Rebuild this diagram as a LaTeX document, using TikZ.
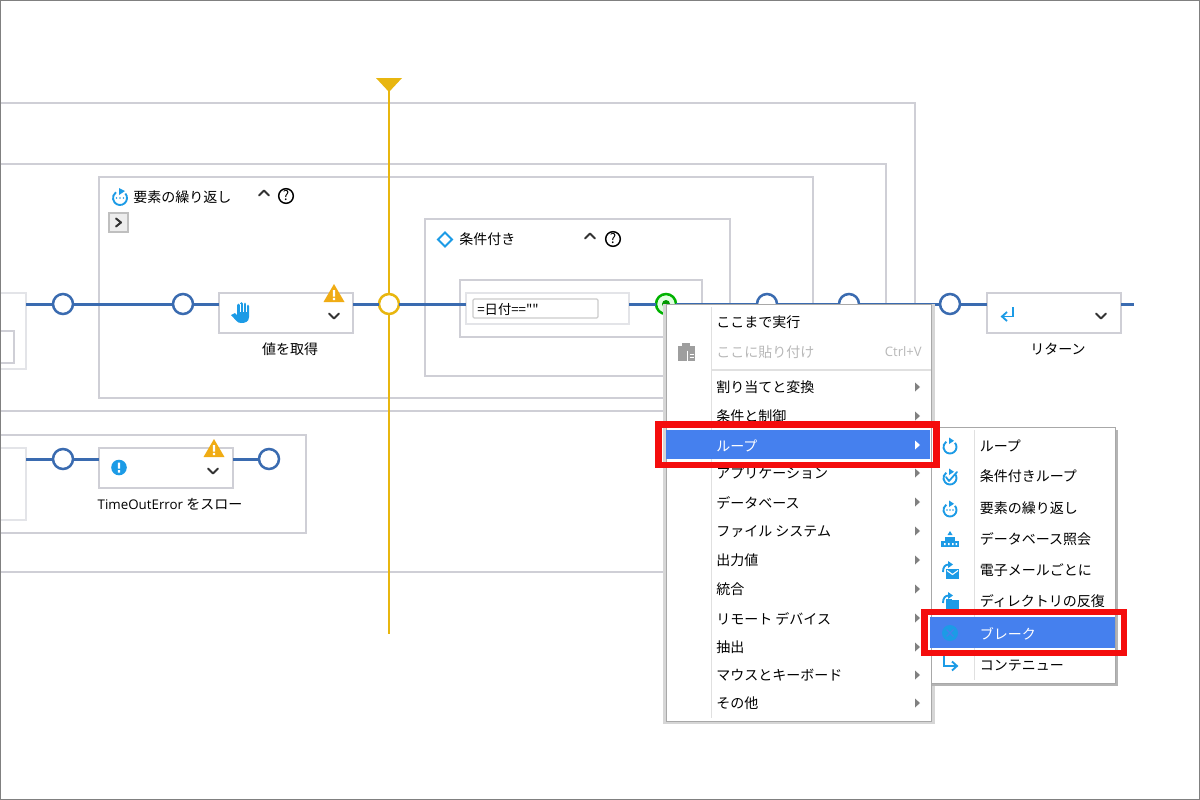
\documentclass[tikz,border=0pt]{standalone}
\usepackage{fontspec}
\setmainfont{Noto Sans CJK JP}
\newfontfamily\latinui{Open Sans}
\newfontfamily\rawcjk{Noto Sans CJK JP}
\definecolor{framegray}{HTML}{CFCFD6}
\definecolor{lightgray2}{HTML}{E3E4E8}
\definecolor{flowblue}{HTML}{3A6BB0}
\definecolor{gold}{HTML}{E8B60F}
\definecolor{warn}{HTML}{F0AC14}
\definecolor{iconblue}{HTML}{1C9BE6}
\definecolor{hilite}{HTML}{4580EE}
\definecolor{redmark}{HTML}{F40D0D}
\definecolor{menuline}{HTML}{A8A8A8}
\definecolor{shadowgray}{HTML}{D6D6D6}
\definecolor{shadowdark}{HTML}{B4B4B4}
\newcommand\bx[6]{%
  \pgfmathsetmacro\bxw{(#4-#2)*0.75}\pgfmathsetmacro\bxh{(#5-#3)*0.75}%
  \node[#6,minimum width=\bxw pt,minimum height=\bxh pt] (#1) at ({(#2+#4)/2},{(#3+#5)/2}) {};}
\newcommand\warning[2]{%
  \begin{scope}[shift={(#1,#2)}]
  \fill[warn] (0,-9) -- (10.5,9) -- (-10.5,9) -- cycle;
  \fill[white] (-1.2,-3) rectangle (1.2,3.5) (-1.2,4.8) rectangle (1.2,7);
  \end{scope}}
\newcommand\chevdown[2]{\draw[chev] (#1-5,#2-2.5) -- (#1,#2+2.5) -- (#1+5,#2-2.5);}
\newcommand\chevup[2]{\draw[chev] (#1-5,#2+2.5) -- (#1,#2-2.5) -- (#1+5,#2+2.5);}
\newcommand\helpicon[2]{%
  \node[draw=black,circle,line width=1.1pt,minimum size=11pt,inner sep=0pt,font=\fontsize{10}{10}\selectfont,text=black] at (#1,#2) {?};}
\newcommand\loopicon[2]{%
  \begin{scope}[shift={(#1,#2)}]
  \draw[ic] (-40:6.5) arc (-40:235:6.5);
  \fill[iconblue] (-1,-9.5) -- (4,-6.2) -- (-1,-3) -- cycle;
  \end{scope}}
\newcommand\menuarrow[2]{\fill[#1] (915,#2-4.5) -- (920,#2) -- (915,#2+4.5) -- cycle;}
\tikzset{
  x=0.75pt,y=-0.75pt,
  frame/.style={draw=framegray,line width=1.5pt,fill=none,rectangle,inner sep=0pt,outer sep=0pt},
  soft/.style={draw=lightgray2,line width=1.5pt,fill=white,rectangle,inner sep=0pt,outer sep=0pt},
  stepbox/.style={draw=framegray,line width=1.7pt,fill=white,rectangle,inner sep=0pt,outer sep=0pt},
  flow/.style={draw=flowblue,line width=2.25pt},
  port/.style={circle,draw=flowblue,fill=white,line width=1.9pt,minimum size=15pt,inner sep=0pt,outer sep=0pt},
  goldport/.style={port,draw=gold},
  guide/.style={fill=gold,draw=none,rectangle,inner sep=0pt,outer sep=0pt},
  chev/.style={draw=black!80,line width=1.5pt,line cap=round,line join=round},
  ic/.style={draw=iconblue,line width=1.4pt},
  label/.style={font=\fontsize{10.5}{12}\selectfont,text=black,inner sep=0pt},
  item/.style={label,anchor=west},
  panel/.style={draw=menuline,line width=0.75pt,fill=white,rectangle,inner sep=0pt,outer sep=0pt},
  shade/.style={fill=shadowgray,draw=none,rectangle,inner sep=0pt,outer sep=0pt},
  shadedark/.style={fill=shadowdark,draw=none,rectangle,inner sep=0pt,outer sep=0pt},
  selbar/.style={fill=hilite,draw=none,rectangle,inner sep=0pt,outer sep=0pt},
  redbox/.style={draw=redmark,line width=5pt,fill=none,rectangle,inner sep=0pt,outer sep=0pt},
}
\begin{document}
\begin{tikzpicture}
\clip (0,0) rectangle (1200,800);
\fill[white] (0,0) rectangle (1200,800);
% nested frames
\bx{outer}{-20}{103}{915}{572}{frame}
\bx{second}{-20}{164}{886}{411}{frame}
\bx{foreach}{99}{177}{813}{398}{frame}
\bx{cond}{425}{219}{730}{376}{frame}
\bx{condin}{460}{280}{702}{337}{frame}
\bx{lowerf}{-20}{435}{306}{533}{frame}
% left partial boxes
\bx{leftbox}{-20}{293}{26}{369}{soft}
\bx{leftin}{-20}{331}{14}{363}{frame}
\bx{lowbox}{-20}{448}{26}{520}{soft}
% step boxes
\bx{hold}{219}{293}{353}{333}{stepbox}
\bx{retbox}{987}{293}{1121}{333}{stepbox}
\bx{throwbox}{99}{448}{233}{488}{stepbox}
\bx{test}{466}{293}{629}{324}{soft}
\bx{testin}{473}{299}{598}{318}{draw=black!20,line width=0.9pt,fill=white,rounded corners=1pt,rectangle,inner sep=0pt,outer sep=0pt}
% guide line
\bx{guideline}{388.4}{85}{390}{634}{guide}
\fill[gold] (376,78) -- (402,78) -- (389,92) -- cycle;
% ports
\node[port] (p1) at (63,304) {};
\node[port] (p2) at (183,304) {};
\node[goldport] (p3) at (389,304) {};
\node[port] (p4) at (767,304) {};
\node[port] (p5) at (849,304) {};
\node[port] (p6) at (950,304) {};
\node[port] (q1) at (63,459) {};
\node[port] (q2) at (269,459) {};
\node[circle,draw=green!70!black,fill=green!12,line width=1.9pt,minimum size=15pt,inner sep=0pt,outer sep=0pt] (pg) at (666,304) {};
\fill[green!60!black] (pg.center) circle (4);
\coordinate (flowend) at (1134,304);
% connectors
\draw[flow] (p1 -| leftbox.east) -- (p1);
\draw[flow] (p1) -- (p2);
\draw[flow] (p2) -- (p2 -| hold.west);
\draw[flow] (p3 -| hold.east) -- (p3);
\draw[flow] (p3) -- (p3 -| test.west);
\draw[flow] (pg -| test.east) -- (pg);
\draw[flow] (pg) -- (p4);
\draw[flow] (p4) -- (p5);
\draw[flow] (p5) -- (p6);
\draw[flow] (p6) -- (p6 -| retbox.west);
\draw[flow] (flowend -| retbox.east) -- (flowend);
\draw[flow] (q1 -| lowbox.east) -- (q1);
\draw[flow] (q1) -- (q1 -| throwbox.west);
\draw[flow] (q2 -| throwbox.east) -- (q2);
% header labels
\draw[ic] (120,198) ++(-40:7) arc (-40:235:7);
\fill[iconblue] (119,188) -- (125,191) -- (119,195) -- cycle;
\fill[iconblue] (116.5,198) circle (0.9) (120,198) circle (0.9) (123.5,198) circle (0.9);
\node[item] (t1) at (133,197.5) {要素の繰り返し};
\chevup{264}{193}
\helpicon{286}{196}
\bx{expand}{109}{213}{128}{232}{draw=black!25,line width=0.9pt,fill=black!7,rectangle,inner sep=0pt,outer sep=0pt}
\draw[chev] (116,218.5) -- (121,222.5) -- (116,226.5);
\draw[iconblue,line width=1.4pt] (445,232.5) -- (452,239.5) -- (445,246.5) -- (438,239.5) -- cycle;
\node[item] (t2) at (459,239.5) {条件付き};
\chevup{590}{236}
\helpicon{613}{239}
% test text
\node[item,font=\rawcjk\fontsize{10}{12}\selectfont] (t3) at (477,309) {=日付==""};
% hold
\fill[iconblue] (231,315) -- (235,313) -- (237,315) -- (237,306) -- (249,306) -- (249,317) .. controls (249,322) and (245,323) .. (241,323) .. controls (237,323) and (236,320) .. (231,315) -- cycle;
\draw[iconblue,line width=2.2pt,line cap=round] (238.5,310) -- (238.5,305) (241.8,310) -- (241.8,303.5) (245,310) -- (245,304) (248,310) -- (248,306);
\draw[white,line width=0.4pt] (240.2,304) -- (240.2,312) (243.4,304) -- (243.4,312) (246.5,304) -- (246.5,312);
\warning{334}{293}
\chevdown{334}{316}
\node[label] (t4) at (290,349.5) {値を取得};
% return
\draw[ic] (1013,307) -- (1013,316.5) -- (1002.5,316.5);
\draw[ic] (1007,312) -- (1002,316.5) -- (1007,321);
\chevdown{1101}{316}
\node[label] (t5) at (1058,349.5) {リターン};
% throw
\fill[iconblue] (119,467.5) circle (7.8);
\fill[white] (117.8,462.5) rectangle (120.2,468.5) (117.8,470) rectangle (120.2,472.5);
\warning{214}{448}
\chevdown{213}{471}
\node[label] (t6) at (170,504.5) {{\latinui\fontsize{10}{12}\selectfont TimeOutError} をスロー};
% main menu
\bx{menushade}{663}{304}{935}{724}{shade}
\bx{menu}{666}{304}{931}{721}{panel}
\draw[black!12,line width=0.75pt] (711,307) -- (711,718);
\draw[black!12,line width=1.5pt] (711,370) -- (931,370);
\fill[black!38] (678,346) rectangle (695,361);
\fill[black!38] (682,343) rectangle (690,347);
\draw[white,line width=0.5pt] (687,350.5) -- (687,361) (689.5,354) -- (693.5,354) (689.5,357) -- (693.5,357);
\node[item] (m0) at (716,322.5) {ここまで実行};
\node[item,text=black!28] (m1) at (716,352.5) {ここに貼り付け};
\node[label,anchor=east,text=black!28,font=\latinui\fontsize{9.8}{12}\selectfont] (mk) at (922,352) {Ctrl+V};
\bx{sel1}{666}{430}{930}{459}{selbar}
\foreach \ty/\tt [count=\i from 2] in {387/割り当てと変換,416/条件と制御,473/アプリケーション,502/データベース,531/ファイル システム,560/出力値,589/統合,618/リモート デバイス,647/抽出,675/マウスとキーボード,703/その他}{
  \node[item] (m\i) at (716,\ty+0.5) {\tt};
  \menuarrow{black!50}{\ty}
}
\node[item,text=white] (mloop) at (716,445.5) {ループ};
\menuarrow{white}{445}
% submenu
\bx{subshade}{932}{430}{1118}{686}{shadedark}
\bx{submenu}{931}{427}{1115}{683}{panel}
\draw[black!12,line width=0.75pt] (974,430) -- (974,680);
\bx{sel2}{930}{617}{1115}{648}{selbar}
\foreach \ty/\tt [count=\i] in {445/ループ,476/条件付きループ,508/要素の繰り返し,539/データベース照会,570/電子メールごとに,601/ディレクトリの反復,665/コンテニュー}{
  \node[item] (s\i) at (979.5,\ty+0.5) {\tt};
}
\node[item,text=white] (sbreak) at (979.5,633.5) {ブレーク};
% submenu icons
\loopicon{950}{447}
\loopicon{950}{478}
\draw[iconblue,line width=1.3pt,line cap=round,line join=round] (946,477) -- (949,481) -- (957,472);
\loopicon{950}{510}
\fill[iconblue] (947,510) circle (0.8) (950,510) circle (0.8) (953,510) circle (0.8);
\fill[iconblue] (941,541) rectangle (959,547);
\fill[iconblue] (945,537) rectangle (955,541);
\fill[iconblue] (950,531) -- (947.5,535) -- (952.5,535) -- cycle;
\fill[white] (944,543) rectangle (945.5,545) (948,543) rectangle (949.5,545) (952,543) rectangle (953.5,545) (955.5,543) rectangle (957,545);
% e-mail icon
\draw[ic] (943,572) .. controls (943,567) and (945,564.5) .. (949,564.5);
\fill[iconblue] (948,561) -- (953,564.5) -- (948,568) -- cycle;
\fill[iconblue] (946,569) rectangle (959,579);
\draw[white,line width=0.8pt] (947,570.5) -- (952.5,574.5) -- (958,570.5);
% folder icon
\draw[ic] (943,603) .. controls (943,598) and (945,595.5) .. (949,595.5);
\fill[iconblue] (948,592) -- (953,595.5) -- (948,599) -- cycle;
\fill[iconblue] (946,600) rectangle (959,610);
\fill[iconblue] (946,598.5) rectangle (952,601);
% break icon
\fill[iconblue] (950,633) circle (8);
\draw[hilite,line width=1pt] (946.5,629.5) -- (953.5,636.5) (953.5,629.5) -- (946.5,636.5);
% continue icon
\draw[ic] (944,656) -- (944,666) -- (956,666);
\draw[ic] (952,661.5) -- (957,666) -- (952,670.5);
% red highlight marks
\bx{mark1}{658.5}{424.5}{936.5}{465}{redbox}
\bx{mark2}{924.5}{612}{1124}{653}{redbox}
% picture border
\draw[black!50,line width=1pt] (0,0) rectangle (1200,800);
\end{tikzpicture}
\end{document}
